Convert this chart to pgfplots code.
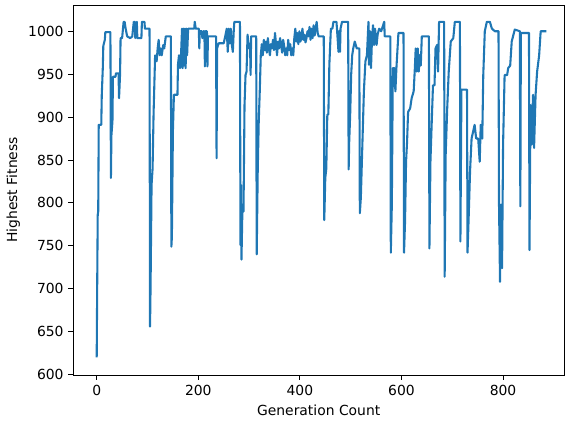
\documentclass[border=0pt]{standalone}
\usepackage{fontspec}
\setmainfont{DejaVu Sans}
\usepackage{pgfplots}
\pgfplotsset{compat=1.18}
\definecolor{mplblue}{HTML}{1F77B4}
\begin{document}
\begin{tikzpicture}
\begin{axis}[
  scale only axis,
  width=353.3pt, height=266.4pt,
  xmin=-46, xmax=920,
  ymin=599.5, ymax=1030.6,
  xtick={0,200,...,800},
  ytick={600,650,...,1000},
  tick align=outside,
  xtick pos=bottom, ytick pos=left,
  major tick length=3.5pt,
  tick style={black, line width=0.6pt},
  axis line style={line width=0.6pt},
  /pgf/number format/assume math mode=true,
  /pgf/number format/1000 sep={},
  xlabel={Generation Count},
  ylabel={Highest Fitness},
  xlabel style={at={(axis description cs:0.5,-0.0946)}, anchor=center},
  ylabel style={at={(axis description cs:-0.1223,0.5)}, anchor=center},
  tick label style={font=\fontsize{10}{12}\selectfont},
  label style={font=\fontsize{10}{12}\selectfont},
]
% best fitness per generation
\addplot[mplblue, line width=1.5pt, line join=round] coordinates {
(0,620)(1,705)(2,786)(3,790)(4,891)(9,891)(10,926)(12,957)(13,983)(16,990)(17,999)(27,999)
(28,829)(29,879)(31,895)(32,947)(37,947)(38,951)(43,951)(44,922)(46,950)(47,992)(50,992)
(53,1011)(55,1011)(57,1003)(60,994)(66,992)(70,994)(73,1011)(75,1011)(76,992)(79,1011)(80,992)
(88,992)(89,1011)(94,1011)(95,1003)(104,1003)(105,656)(106,700)(108,821)(110,840)(112,905)
(115,972)(118,965)(120,980)(122,990)(124,972)(126,980)(128,972)(131,984)(133,980)(136,994)
(146,994)(147,749)(148,760)(150,883)(152,926)(159,926)(160,961)(162,972)(164,957)(166,972)
(168,1003)(169,957)(171,1003)(172,960)(174,1003)(175,957)(177,1003)(178,972)(180,1003)
(192,1003)(193,1011)(195,1003)(201,1003)(202,980)(203,1000)(207,1000)(208,992)(210,1000)
(212,1000)(213,959)(214,1000)(217,1000)(218,959)(219,994)(235,994)(236,852)(237,980)
(240,986)(250,986)(253,994)(256,1003)(258,976)(260,1003)(262,986)(264,1003)(266,984)
(268,976)(270,1003)(271,1011)(282,1011)(283,751)(284,821)(285,734)(287,798)(289,790)
(291,914)(293,949)(295,953)(297,996)(300,980)(302,980)(303,949)(304,994)(314,994)
(315,740)(317,837)(319,895)(321,930)(323,972)
(325,985)(327,972)(329,990)(331,978)(333,988)(335,975)(337,992)(339,980)(341,972)(343,985)
(345,980)(347,990)(349,978)(351,998)(353,985)(355,972)(357,988)(359,980)(361,992)(363,985)
(365,975)(367,990)(369,983)(371,972)(373,980)(375,972)(377,990)(379,978)(381,985)(383,972)
(385,980)(387,972)(389,992)(391,1003)(393,988)(395,998)(397,985)(399,1000)(401,988)(403,992)
(405,1003)(407,990)(409,996)(411,987)(413,992)(415,1000)(417,994)(419,1005)(421,990)(423,1003)
(425,992)(427,1007)(429,995)(431,1003)(433,1011)(435,998)(437,994)(447,994)
(448,780)(450,829)(452,840)(454,903)(456,903)(458,961)(461,1003)(464,1003)(466,1011)
(472,1011)(473,1003)(476,976)(477,1000)(479,976)(480,1003)(483,1011)(495,1011)
(496,839)(497,870)(499,903)(501,950)(503,972)(505,980)(508,988)(512,980)(517,980)
(518,788)(520,806)(523,868)(526,930)(529,965)(532,972)(535,1011)(536,961)(538,1000)
(540,957)(542,992)(544,1007)(546,984)(548,1003)(551,984)(553,996)(556,1003)(560,1000)
(566,1011)(567,994)(578,994)(579,742)(581,798)(583,957)(586,957)(588,930)(590,957)
(594,998)(604,998)(605,742)(607,778)(609,848)(611,871)(613,906)(617,910)(620,922)
(624,930)(626,953)(628,980)(630,953)(632,980)(634,953)(636,972)(638,960)(640,994)
(654,994)(655,747)(657,848)(660,902)(662,937)(665,937)(667,980)(670,984)(672,953)
(674,1011)(684,1011)(685,714)(687,856)(690,910)(693,953)(697,988)(702,992)(705,1011)
(715,1011)(716,755)(718,932)(729,932)(730,742)(732,778)(735,837)(738,875)(741,883)
(744,891)(747,875)(751,875)(754,848)(756,891)(759,875)(761,949)(764,1000)(768,1011)
(774,1011)(778,1003)(784,1000)(791,1000)(792,798)(794,708)(796,798)(798,724)(800,868)
(803,949)(808,949)(810,957)(814,960)(817,988)(820,995)(823,1002)(833,1000)(834,796)
(835,998)(851,998)(852,745)(854,914)(856,868)(859,926)(861,864)(864,926)(867,953)
(871,972)(874,1000)(885,1000)
};
\end{axis}
\pgfresetboundingbox
\path[use as bounding box] ([shift={(-52.8pt,-33.8pt)}]current axis.south west)
  rectangle ([shift={(0.7pt,3.6pt)}]current axis.north east);
\end{tikzpicture}
\end{document}
